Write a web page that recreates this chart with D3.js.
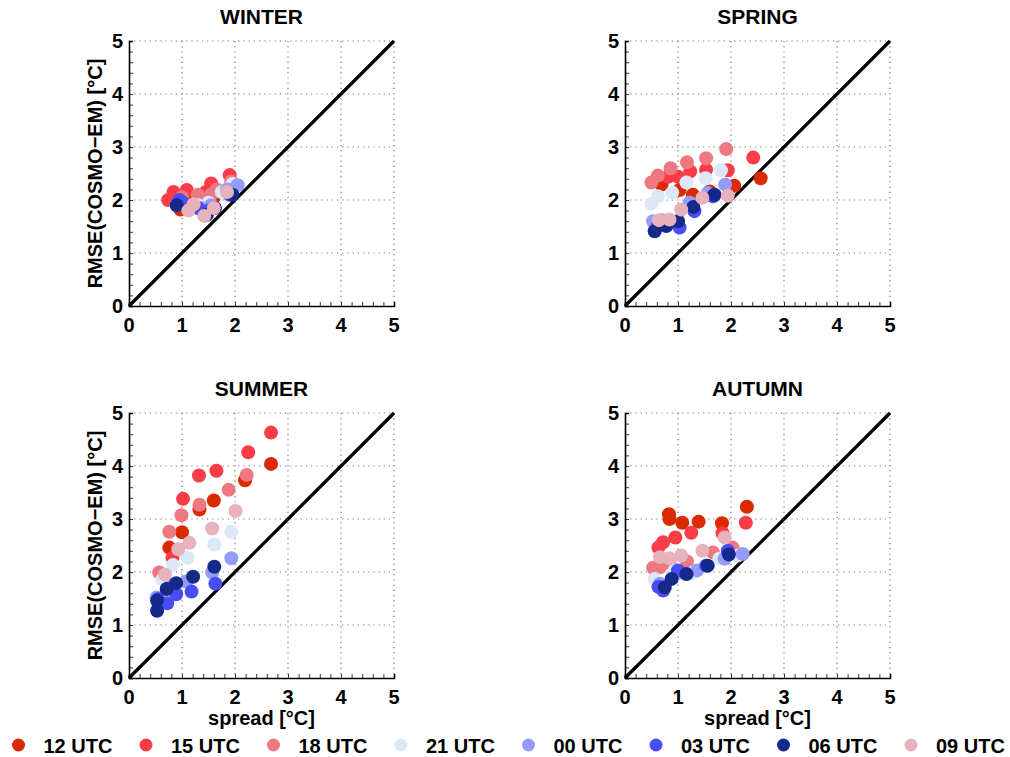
<!DOCTYPE html>
<html>
<head>
<meta charset="utf-8">
<script src="https://cdn.jsdelivr.net/npm/d3@7"></script>
<style>
  body { margin: 0; background: #fff; }
  svg { font-family: "Liberation Sans", Arial, sans-serif; font-weight: bold; }
</style>
</head>
<body>
<div id="chart"></div>
<script>
// legend order = draw order
const utcLabels = ["12 UTC", "15 UTC", "18 UTC", "21 UTC", "00 UTC", "03 UTC", "06 UTC", "09 UTC"];
const utcColors = ["#d92a00", "#fa3c46", "#ee7880", "#dce8f8", "#939cf6", "#4a4cf6", "#15298a", "#e8b2bd"];
const seasons = ["WINTER", "SPRING", "SUMMER", "AUTUMN"];
const ticks = [0, 1, 2, 3, 4, 5];

// [spread, rmse] per UTC, same order as utcLabels
const winterPoints = [
    [[0.97, 1.82], [1.12, 1.95], [1.40, 1.90], [1.60, 2.05], [1.55, 2.18]],
    [[0.74, 2.00], [0.84, 2.15], [1.09, 2.19], [1.45, 2.15], [1.55, 2.31], [1.90, 2.47]],
    [[1.00, 2.05], [1.30, 2.10], [1.55, 2.10], [1.65, 2.20], [1.93, 2.35], [1.20, 1.88]],
    [[0.90, 1.90], [1.30, 1.90], [1.50, 1.95], [1.75, 2.15], [1.95, 2.30]],
    [[0.95, 1.97], [1.35, 1.85], [1.55, 1.90], [1.85, 2.20], [2.05, 2.28]],
    [[0.95, 2.00], [1.30, 1.85], [1.50, 1.80], [1.90, 2.10], [1.02, 1.95]],
    [[0.90, 1.90], [1.47, 1.72], [1.62, 1.85], [1.95, 2.10]],
    [[1.12, 1.80], [1.42, 1.70], [1.60, 1.85], [1.85, 2.15], [1.22, 1.92]],
];
const springPoints = [
    [[0.69, 2.29], [1.03, 2.19], [1.28, 2.10], [1.60, 2.16], [2.06, 2.27], [2.56, 2.41]],
    [[0.81, 2.44], [1.00, 2.44], [1.23, 2.54], [1.53, 2.57], [1.94, 2.56], [2.42, 2.80]],
    [[0.50, 2.33], [0.62, 2.46], [0.86, 2.60], [1.17, 2.71], [1.53, 2.79], [1.91, 2.96]],
    [[0.50, 1.93], [0.62, 2.07], [0.89, 2.14], [1.16, 2.33], [1.52, 2.41], [1.81, 2.56]],
    [[0.53, 1.60], [0.69, 1.62], [1.22, 1.95], [1.56, 2.13], [1.89, 2.29]],
    [[0.62, 1.51], [1.03, 1.48], [1.31, 1.79], [1.66, 2.07]],
    [[0.56, 1.41], [0.78, 1.51], [1.00, 1.60], [1.29, 1.87], [1.69, 2.10]],
    [[0.64, 1.62], [0.84, 1.63], [1.06, 1.82], [1.46, 2.04], [1.94, 2.08]],
];
const summerPoints = [
    [[0.76, 2.46], [1.00, 2.75], [1.33, 3.18], [1.60, 3.35], [2.19, 3.73], [2.68, 4.04]],
    [[0.82, 2.27], [1.02, 3.38], [1.32, 3.82], [1.65, 3.91], [2.25, 4.26], [2.68, 4.63]],
    [[0.57, 1.99], [0.76, 2.76], [0.99, 3.07], [1.33, 3.27], [1.88, 3.55], [2.22, 3.83]],
    [[0.63, 1.86], [0.83, 2.13], [1.11, 2.27], [1.61, 2.52], [1.93, 2.76]],
    [[0.52, 1.52], [0.80, 1.76], [1.08, 1.82], [1.57, 1.99], [1.93, 2.26]],
    [[0.55, 1.49], [0.72, 1.41], [0.89, 1.58], [1.18, 1.63], [1.63, 1.78]],
    [[0.53, 1.27], [0.53, 1.46], [0.71, 1.68], [0.89, 1.79], [1.21, 1.91], [1.61, 2.10]],
    [[0.68, 1.95], [0.93, 2.43], [1.14, 2.55], [1.57, 2.82], [2.01, 3.15]],
];
const autumnPoints = [
    [[0.83, 3.09], [0.84, 3.00], [1.08, 2.93], [1.39, 2.95], [1.83, 2.92], [2.30, 3.23]],
    [[0.63, 2.46], [0.72, 2.56], [0.95, 2.65], [1.25, 2.74], [1.84, 2.73], [2.28, 2.93]],
    [[0.53, 2.08], [0.66, 2.09], [0.84, 2.18], [1.17, 2.20], [1.66, 2.37], [2.03, 2.46]],
    [[0.56, 1.87], [0.94, 2.03], [1.28, 1.99], [1.78, 2.25], [2.13, 2.31]],
    [[0.66, 1.78], [1.03, 1.99], [1.36, 2.03], [1.88, 2.25], [2.22, 2.34]],
    [[0.63, 1.72], [0.72, 1.65], [1.00, 2.03], [1.53, 2.12], [1.94, 2.40]],
    [[0.75, 1.71], [0.88, 1.87], [1.16, 1.96], [1.56, 2.12], [1.96, 2.33]],
    [[0.66, 2.28], [0.84, 2.26], [1.06, 2.31], [1.46, 2.40], [1.88, 2.65]],
];
const seasonPoints = [winterPoints, springPoints, summerPoints, autumnPoints];

const width = 1010, height = 757;
const panelSize = 265;
const panelLeft = [129, 625];
const panelTop = [41, 413];

const svg = d3.select("#chart").append("svg")
    .attr("width", width)
    .attr("height", height);

seasons.forEach((name, i) => {
    const col = i % 2, row = Math.floor(i / 2);
    const g = svg.append("g")
        .attr("transform", `translate(${panelLeft[col]},${panelTop[row]})`);

    const x = d3.scaleLinear().domain([0, 5]).range([0, panelSize]);
    const y = d3.scaleLinear().domain([0, 5]).range([panelSize, 0]);

    // dotted grid
    g.append("g").selectAll("line").data(ticks.slice(1)).join("line")
        .attr("x1", d => x(d)).attr("x2", d => x(d))
        .attr("y1", 0).attr("y2", panelSize)
        .attr("stroke", "#777").attr("stroke-width", 1.2)
        .attr("stroke-dasharray", "1.2,4");
    g.append("g").selectAll("line").data(ticks.slice(1)).join("line")
        .attr("y1", d => y(d)).attr("y2", d => y(d))
        .attr("x1", 0).attr("x2", panelSize)
        .attr("stroke", "#777").attr("stroke-width", 1.2)
        .attr("stroke-dasharray", "1.2,4");

    // axes with minor ticks pointing inward
    const minor = d3.range(0, 5.01, 0.2);
    const xAxis = g.append("g").attr("transform", `translate(0,${panelSize})`)
        .call(d3.axisTop(x).tickValues(minor).tickSize(4).tickFormat(""));
    const yAxis = g.append("g")
        .call(d3.axisRight(y).tickValues(minor).tickSize(4).tickFormat(""));
    [xAxis, yAxis].forEach(a => {
        a.select(".domain").attr("stroke", "#000").attr("stroke-width", 1.6);
        a.selectAll(".tick line").attr("stroke", "#000").attr("stroke-width", 0.8);
    });

    // tick labels
    g.append("g").selectAll("text").data(ticks).join("text")
        .attr("x", d => x(d)).attr("y", panelSize + 26)
        .attr("text-anchor", "middle")
        .attr("font-size", 20)
        .text(d => d);
    g.append("g").selectAll("text").data(ticks).join("text")
        .attr("x", -6).attr("y", d => y(d) + 7)
        .attr("text-anchor", "end")
        .attr("font-size", 20)
        .text(d => d);

    // 1:1 line
    g.append("line")
        .attr("x1", x(0)).attr("y1", y(0))
        .attr("x2", x(5)).attr("y2", y(5))
        .attr("stroke", "#000").attr("stroke-width", 3.3);

    // points
    seasonPoints[i].forEach((pts, k) => {
        g.append("g").selectAll("circle").data(pts).join("circle")
            .attr("cx", d => x(d[0]))
            .attr("cy", d => y(d[1]))
            .attr("r", 7)
            .attr("fill", utcColors[k]);
    });

    // title
    g.append("text")
        .attr("x", panelSize / 2).attr("y", -17)
        .attr("text-anchor", "middle")
        .attr("font-size", 21)
        .text(name);

    if (col == 0) {
        g.append("text")
            .attr("transform", `translate(-27,${panelSize / 2}) rotate(-90)`)
            .attr("text-anchor", "middle")
            .attr("font-size", 20)
            .text("RMSE(COSMO\u2212EM) [°C]");
    }
    if (row == 1) {
        g.append("text")
            .attr("x", panelSize / 2).attr("y", panelSize + 47)
            .attr("text-anchor", "middle")
            .attr("font-size", 20)
            .text("spread [°C]");
    }
});

// legend
const legend = svg.append("g").attr("transform", "translate(0,745)");
const lx = d3.scaleLinear().domain([0, 7]).range([18.5, 911]);
utcLabels.forEach((lab, k) => {
    legend.append("circle")
        .attr("cx", lx(k)).attr("cy", 0).attr("r", 6.5)
        .attr("fill", utcColors[k]);
    legend.append("text")
        .attr("x", lx(k) + 25).attr("y", 7.5)
        .attr("font-size", 20)
        .text(lab);
});
</script>
</body>
</html>
